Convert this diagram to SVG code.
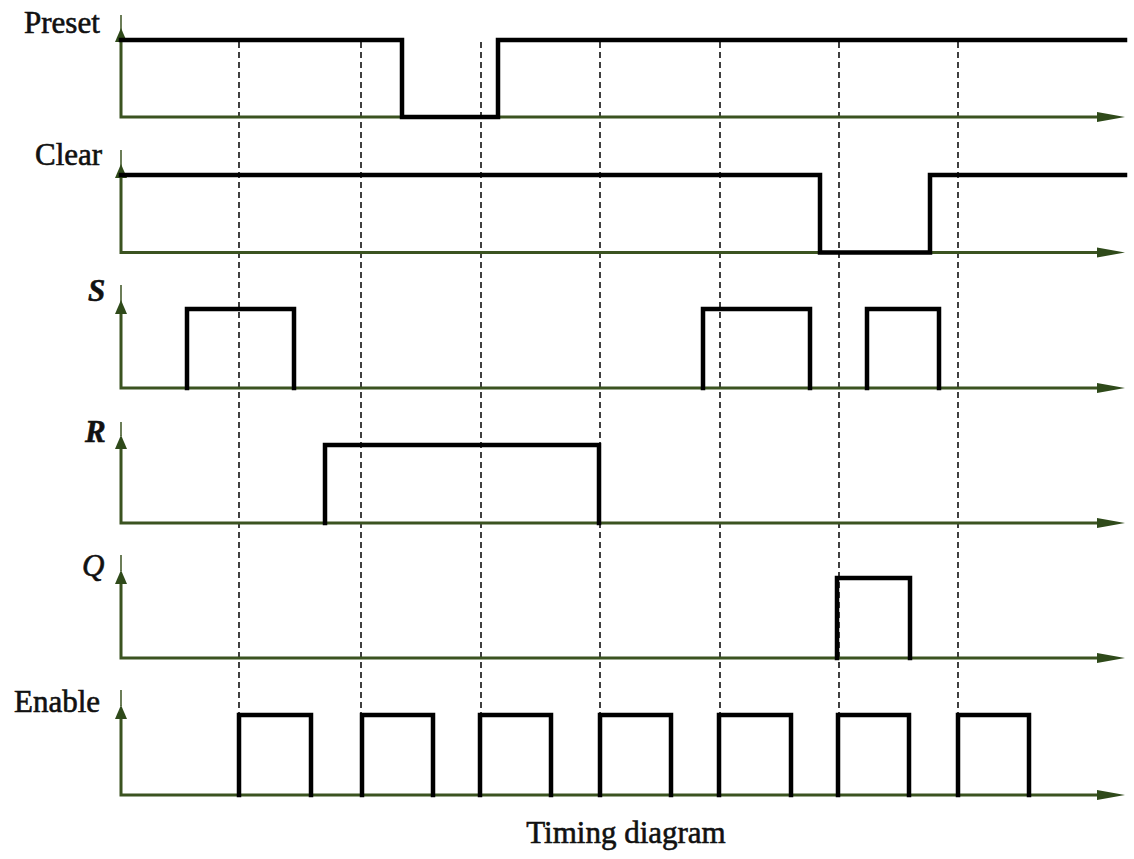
<svg xmlns="http://www.w3.org/2000/svg" width="1134" height="859" viewBox="0 0 1134 859">
<style>
.lbl{font-family:"Liberation Serif","Times New Roman",serif;font-size:31px;fill:#111;stroke:#111;stroke-width:0.6;}
.it{font-style:italic;font-weight:bold;}
.ax{fill:none;stroke:#3b5320;stroke-width:3;}
.stub{fill:none;stroke:#3b5320;stroke-width:1.5;}
.ah{fill:#2f4a1a;}
.sig{fill:none;stroke:#000;stroke-width:4.5;stroke-linejoin:miter;stroke-linecap:square;}
.dash{fill:none;stroke:#111;stroke-width:1.6;stroke-dasharray:6 4;}
</style>
<defs>
<g id="yarrow"><path class="ah" d="M0,-14 L6,0 L-6,0 Z"/></g>
<g id="xarrow"><path class="ah" d="M0,0 L-28,-5 L-28,5 Z"/></g>
</defs>

<g id="guides">
<line class="dash" x1="239" y1="42" x2="239" y2="795"/>
<line class="dash" x1="361" y1="42" x2="361" y2="795"/>
<line class="dash" x1="481" y1="42" x2="481" y2="795"/>
<line class="dash" x1="600" y1="42" x2="600" y2="795"/>
<line class="dash" x1="720" y1="42" x2="720" y2="795"/>
<line class="dash" x1="839" y1="42" x2="839" y2="795"/>
<line class="dash" x1="958" y1="42" x2="958" y2="795"/>
</g>

<g id="preset">
<text class="lbl" x="24" y="33">Preset</text>
<line class="stub" x1="121" y1="15" x2="121" y2="30"/>
<polyline class="ax" points="121,42 121,117 1100,117"/>
<use href="#yarrow" x="121" y="42"/>
<use href="#xarrow" x="1125" y="117"/>
<polyline class="sig" points="121,40 402,40 402,117 498,117 498,40 1125,40"/>
</g>

<g id="clear">
<text class="lbl" x="35" y="165">Clear</text>
<line class="stub" x1="121" y1="150" x2="121" y2="166"/>
<polyline class="ax" points="121,178 121,252.5 1100,252.5"/>
<use href="#yarrow" x="121" y="178"/>
<use href="#xarrow" x="1125" y="252.5"/>
<polyline class="sig" points="121,175 820,175 820,252.5 930,252.5 930,175 1125,175"/>
</g>

<g id="s">
<text class="lbl it" x="88" y="301">S</text>
<line class="stub" x1="121" y1="285" x2="121" y2="302"/>
<polyline class="ax" points="121,314 121,388 1100,388"/>
<use href="#yarrow" x="121" y="314"/>
<use href="#xarrow" x="1125" y="388"/>
<polyline class="sig" points="187,388 187,309 294,309 294,388"/>
<polyline class="sig" points="703,388 703,309 810,309 810,388"/>
<polyline class="sig" points="867,388 867,309 939,309 939,388"/>
</g>

<g id="r">
<text class="lbl it" x="85" y="442">R</text>
<line class="stub" x1="121" y1="422" x2="121" y2="436"/>
<polyline class="ax" points="121,449 121,523 1100,523"/>
<use href="#yarrow" x="121" y="449"/>
<use href="#xarrow" x="1125" y="523"/>
<polyline class="sig" points="325,523 325,445 599,445 599,523"/>
</g>

<g id="q">
<text class="lbl it" x="82" y="576" style="font-weight:normal">Q</text>
<line class="stub" x1="121" y1="555" x2="121" y2="571"/>
<polyline class="ax" points="121,584 121,658 1100,658"/>
<use href="#yarrow" x="121" y="584"/>
<use href="#xarrow" x="1125" y="658"/>
<polyline class="sig" points="837,658 837,578 910,578 910,658"/>
</g>

<g id="enable">
<text class="lbl" x="14" y="712">Enable</text>
<line class="stub" x1="121" y1="690" x2="121" y2="706"/>
<polyline class="ax" points="121,719 121,795 1100,795"/>
<use href="#yarrow" x="121" y="719"/>
<use href="#xarrow" x="1125" y="795"/>
<polyline class="sig" points="239,795 239,715 311,715 311,795"/>
<polyline class="sig" points="362,795 362,715 433,715 433,795"/>
<polyline class="sig" points="480,795 480,715 551,715 551,795"/>
<polyline class="sig" points="600,795 600,715 671,715 671,795"/>
<polyline class="sig" points="719,795 719,715 791,715 791,795"/>
<polyline class="sig" points="838,795 838,715 909,715 909,795"/>
<polyline class="sig" points="958,795 958,715 1029,715 1029,795"/>
</g>

<g id="caption">
<text class="lbl" x="626" y="843" text-anchor="middle">Timing diagram</text>
</g>
</svg>
